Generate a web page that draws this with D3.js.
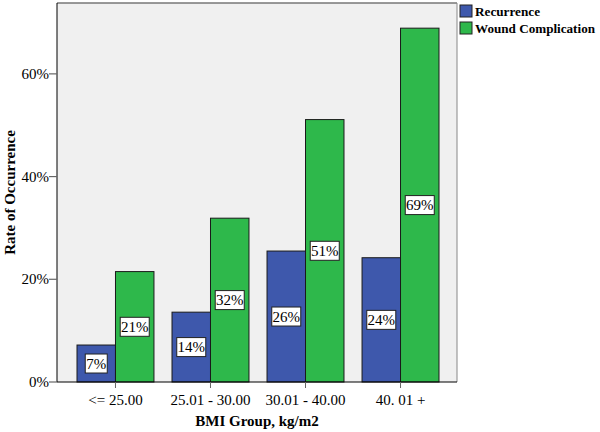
<!DOCTYPE html>
<html><head><meta charset="utf-8">
<script src="https://cdn.jsdelivr.net/npm/d3@7"></script>
<style>body{margin:0;background:#fff}svg{display:block}svg text{font-family:"Liberation Serif","Times New Roman",Times,serif !important}</style>
</head><body><svg id="c" width="600" height="432"></svg>
<script>
const categories = ["<= 25.00", "25.01 - 30.00", "30.01 - 40.00", "40. 01 +"];
const seriesNames = ["Recurrence", "Wound Complication"];
const recurrence = [7.2, 13.6, 25.5, 24.2];
const woundComplication = [21.5, 31.9, 51.1, 68.9];
const labelsRec = ["7%", "14%", "26%", "24%"];
const labelsWound = ["21%", "32%", "51%", "69%"];
const yTicks = [0, 20, 40, 60];
const colors = ["#3e58ac", "#2eb84b"];

const svg = d3.select("#c");
const L = 57, R = 457, T = 3, B = 382;
svg.append("rect").attr("x", L).attr("y", T).attr("width", R - L).attr("height", B - T).attr("fill", "#f0f0f0");

const x = d3.scaleBand().domain(categories).range([L + 1, R + 1]).paddingInner(0.19).paddingOuter(0.2);
const xs = d3.scaleBand().domain(seriesNames).range([0, x.bandwidth()]);
const y = d3.scaleLinear().domain([0, 73.8]).range([B, T]);

const series = [recurrence, woundComplication];
const labels = [labelsRec, labelsWound];
series.forEach((vals, si) => {
  const g = svg.append("g");
  g.selectAll("rect").data(vals).join("rect")
    .attr("x", (d, i) => x(categories[i]) + xs(seriesNames[si]))
    .attr("y", d => y(d))
    .attr("width", xs.bandwidth())
    .attr("height", d => B - y(d))
    .attr("fill", colors[si]).attr("stroke", "#1a1a1a").attr("stroke-width", 1);
});
series.forEach((vals, si) => {
  vals.forEach((v, i) => {
    const cx = x(categories[i]) + xs(seriesNames[si]) + xs.bandwidth() / 2;
    const cy = (y(v) + B) / 2;
    const t = labels[si][i];
    const w = t.length === 2 ? 22 : 29;
    svg.append("rect").attr("x", cx - w / 2).attr("y", cy - 9.5).attr("width", w).attr("height", 19)
      .attr("fill", "#fff").attr("stroke", "#222").attr("stroke-width", 1);
    svg.append("text").attr("x", cx).attr("y", cy + 5).attr("text-anchor", "middle")
      .attr("font-size", 15).attr("fill", "#000").text(t);
  });
});

// borders
svg.append("line").attr("x1", L).attr("x2", R).attr("y1", T).attr("y2", T).attr("stroke", "#777").attr("stroke-width", 1.5);
svg.append("line").attr("x1", R).attr("x2", R).attr("y1", T).attr("y2", B).attr("stroke", "#888");
svg.append("line").attr("x1", L).attr("x2", L).attr("y1", T).attr("y2", B).attr("stroke", "#000");
svg.append("line").attr("x1", L).attr("x2", R).attr("y1", B).attr("y2", B).attr("stroke", "#000");

// y axis
const ya = svg.append("g");
yTicks.forEach(t => {
  ya.append("line").attr("x1", L - 8).attr("x2", L).attr("y1", y(t)).attr("y2", y(t)).attr("stroke", "#666").attr("stroke-width", 1.2);
  ya.append("text").attr("x", L - 8).attr("y", y(t) + 5).attr("text-anchor", "end").attr("font-size", 15).text(t + "%");
});
// x axis
categories.forEach(c => {
  const cx = x(c) + x.bandwidth() / 2;
  svg.append("line").attr("x1", cx).attr("x2", cx).attr("y1", B).attr("y2", B + 6).attr("stroke", "#666");
  svg.append("text").attr("x", cx).attr("y", B + 23).attr("text-anchor", "middle").attr("font-size", 15).text(c);
});
svg.append("text").attr("x", (L + R) / 2).attr("y", 426).attr("text-anchor", "middle").attr("font-size", 15).attr("font-weight", "bold").text("BMI Group, kg/m2");
svg.append("text").attr("transform", "translate(15," + ((T + B) / 2) + ") rotate(-90)").attr("text-anchor", "middle").attr("font-size", 15).attr("font-weight", "bold").text("Rate of Occurrence");

// legend
const legendLen = [65, 120];
seriesNames.forEach((n, i) => {
  svg.append("rect").attr("x", 460).attr("y", 5 + i * 17).attr("width", 12).attr("height", 12).attr("fill", colors[i]).attr("stroke", "#222");
  svg.append("text").attr("x", 475).attr("y", 16 + i * 17).attr("font-size", 13).attr("font-weight", "bold")
    .attr("textLength", legendLen[i]).attr("lengthAdjust", "spacingAndGlyphs").text(n);
});
</script></body></html>
